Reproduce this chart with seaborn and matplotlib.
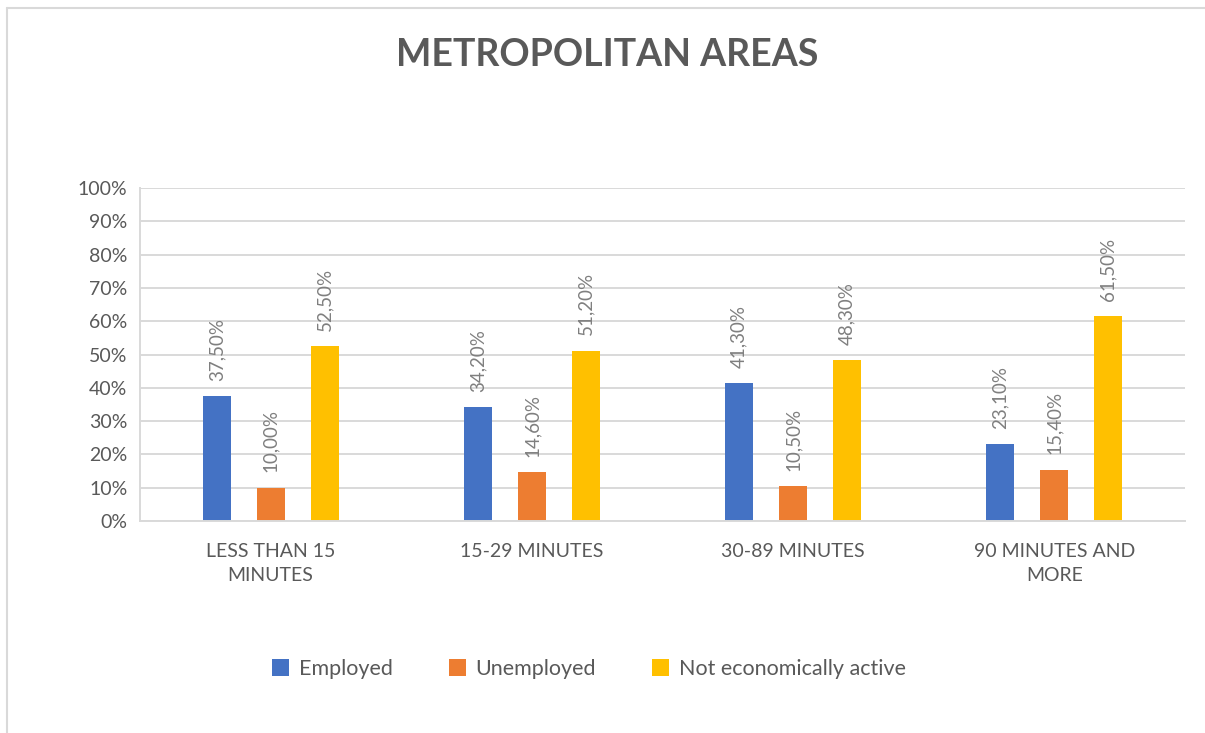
import matplotlib
matplotlib.use("Agg")
import matplotlib.pyplot as plt
from matplotlib.lines import Line2D
from matplotlib.patches import Patch
import pandas as pd
import seaborn as sns

# Commute time categories and share of each activity status (%)
categories = ["LESS THAN 15\nMINUTES", "15-29 MINUTES", "30-89 MINUTES", "90 MINUTES AND\nMORE"]
series_names = ["Employed", "Unemployed", "Not economically active"]
employed = [37.5, 34.2, 41.3, 23.1]
unemployed = [10.0, 14.6, 10.5, 15.4]
not_active = [52.5, 51.2, 48.3, 61.5]
y_ticks = [0, 10, 20, 30, 40, 50, 60, 70, 80, 90, 100]

colors = ["#4472C4", "#ED7D31", "#FFC000"]
text_gray = "#595959"
label_gray = "#7F7F7F"
grid_gray = "#D9D9D9"

df = pd.DataFrame({
    "category": categories * 3,
    "status": [s for s in series_names for _ in categories],
    "value": employed + unemployed + not_active,
})

sns.set_theme(style="white")
plt.rcParams["font.family"] = ["Lato", "DejaVu Sans"]

W, H = 1205, 733
fig = plt.figure(figsize=(W / 100, H / 100), dpi=100)
fig.patch.set_facecolor("white")

ax = fig.add_axes([140 / W, 1 - 521 / H, (1185 - 140) / W, (521 - 188) / H])

sns.barplot(data=df, x="category", y="value", hue="status",
            hue_order=series_names, order=categories, palette=colors,
            width=0.62, gap=0.48, linewidth=0, saturation=1,
            legend=False, ax=ax)

# Rotated value labels above each bar
for container, vals in zip(ax.containers, [employed, unemployed, not_active]):
    labels = [f"{v:.2f}%".replace(".", ",") for v in vals]
    ax.bar_label(container, labels=labels, rotation=90, padding=11,
                 color=label_gray, fontsize=13.5)

ax.set_ylim(0, 100)
ax.set_xlim(-0.5, 3.5)
ax.set_yticks(y_ticks)
ax.set_yticklabels([f"{t}%" for t in y_ticks])
ax.set_xlabel("")
ax.set_ylabel("")

ax.yaxis.grid(True, color=grid_gray, linewidth=1.4)
ax.set_axisbelow(True)
for side in ["top", "right"]:
    ax.spines[side].set_visible(False)
for side in ["left", "bottom"]:
    ax.spines[side].set_color(grid_gray)
    ax.spines[side].set_linewidth(1.4)

ax.tick_params(axis="y", length=5, width=1.4, color=grid_gray,
               labelcolor=text_gray, labelsize=14, pad=4)
ax.tick_params(axis="x", length=0, labelcolor=text_gray, labelsize=14, pad=16)
for lbl in ax.get_xticklabels():
    lbl.set_linespacing(1.45)

# Title
fig.text(607 / W, 1 - 55 / H, "METROPOLITAN AREAS", ha="center", va="center",
         fontsize=27, fontweight="bold", color=text_gray)

# Legend
handles = [Patch(facecolor=c, edgecolor="none") for c in colors]
fig.legend(handles, series_names, loc="center", bbox_to_anchor=(589 / W, 1 - 669 / H),
           ncol=3, frameon=False, fontsize=15.5, labelcolor=text_gray,
           handlelength=0.8, handleheight=0.8, handletextpad=0.45,
           columnspacing=2.6)

# Chart frame
fig.add_artist(Line2D([7 / W, 7 / W], [0, 1 - 8 / H], transform=fig.transFigure,
                      color=grid_gray, linewidth=1.5))
fig.add_artist(Line2D([7 / W, 1], [1 - 8 / H, 1 - 8 / H], transform=fig.transFigure,
                      color=grid_gray, linewidth=1.5))

fig.savefig("out.png", dpi=100, facecolor="white")
